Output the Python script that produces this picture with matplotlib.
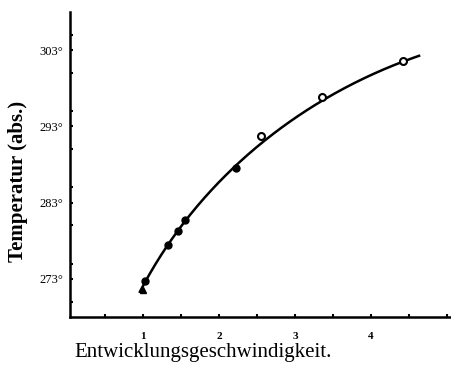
import numpy as np
import matplotlib.pyplot as plt
from matplotlib.ticker import MultipleLocator, FixedLocator

# measured points (Entwicklungsgeschwindigkeit vs. absolute temperature)
tri_x = [1.0]
tri_y = [271.6]
dot_x = [1.03, 1.33, 1.46, 1.55, 2.22]
dot_y = [272.7, 277.4, 279.3, 280.7, 287.5]
ring_x = [2.55, 3.36, 4.42]
ring_y = [291.7, 296.8, 301.5]

# hand-drawn curve
curve_x = [0.96, 1.33, 1.55, 2.22, 2.55, 3.16, 3.36, 4.42, 4.63]
curve_y = [271.3, 277.4, 280.7, 287.5, 291.0, 295.1, 296.4, 301.4, 302.3]

xticks = [1, 2, 3, 4]
xtick_labels = ['1', '2', '3', '4']
yticks = [273, 283, 293, 303]
ytick_labels = ['273°', '283°', '293°', '303°']

plt.rcParams['font.family'] = ['Liberation Serif', 'DejaVu Serif']

fig = plt.figure(figsize=(4.51, 3.65), dpi=100)
ax = fig.add_axes([0.155, 0.1315, 0.845, 0.836])

# smooth the hand-drawn curve: least squares on 1, ln x, x, x^2
cx = np.array(curve_x)
A = np.column_stack([np.ones_like(cx), np.log(cx), cx, cx ** 2])
coef, *_ = np.linalg.lstsq(A, np.array(curve_y), rcond=None)
sx = np.linspace(cx.min(), cx.max(), 200)
sy = coef[0] + coef[1] * np.log(sx) + coef[2] * sx + coef[3] * sx ** 2
ax.plot(sx, sy, color='black', lw=1.8)

ax.plot(tri_x, tri_y, '^', color='black', ms=5)
ax.plot(dot_x, dot_y, 'o', color='black', ms=5)
ax.plot(ring_x, ring_y, 'o', mfc='white', mec='black', mew=1.5, ms=5)

ax.set_xlim(0.04, 5.05)
ax.set_ylim(268.0, 308.0)

for s in ['top', 'right']:
    ax.spines[s].set_visible(False)
for s in ['left', 'bottom']:
    ax.spines[s].set_linewidth(1.8)

ax.xaxis.set_major_locator(FixedLocator(xticks))
ax.set_xticklabels(xtick_labels, fontsize=8, fontweight='bold')
ax.xaxis.set_minor_locator(MultipleLocator(0.5))
ax.yaxis.set_major_locator(FixedLocator(yticks))
ax.set_yticklabels(ytick_labels, fontsize=9)
ax.yaxis.set_minor_locator(MultipleLocator(5))
ax.tick_params(axis='both', which='both', direction='in', length=2.5, width=1.5)
ax.tick_params(axis='x', pad=11)
ax.tick_params(axis='y', pad=5)

ax.set_xlabel('Entwicklungsgeschwindigkeit.', fontsize=15)
ax.xaxis.set_label_coords(0.35, -0.085)
ax.set_ylabel('Temperatur (abs.)', fontsize=15, fontweight='bold')
ax.yaxis.set_label_coords(-0.11, 0.443)

fig.savefig('out.png', dpi=100)
